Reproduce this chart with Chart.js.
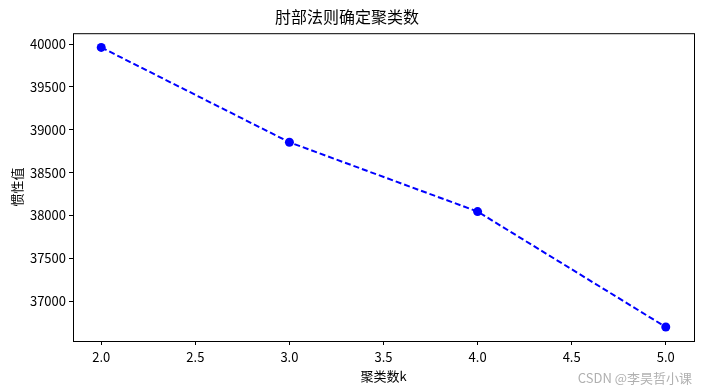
<!DOCTYPE html>
<html>
<head>
<meta charset="utf-8">
<script src="https://cdn.jsdelivr.net/npm/chart.js@4/dist/chart.umd.min.js"></script>
<style>
  html, body { margin: 0; padding: 0; background: #fff; }
  #wrap { width: 702px; height: 391px; }
</style>
</head>
<body>
<div id="wrap"><canvas id="chart" width="702" height="391"></canvas></div>
<script>
const kValues = [2, 3, 4, 5];
const inertia = [39962, 38855, 38046, 36698];
const xTicks = [2.0, 2.5, 3.0, 3.5, 4.0, 4.5, 5.0];
const yTicks = [37000, 37500, 38000, 38500, 39000, 39500, 40000];

const FONT = "'Noto Sans CJK SC', 'DejaVu Sans', sans-serif";
const ctx = document.getElementById("chart").getContext("2d");

/* box around plot + watermark */
const boxPlugin = {
  id: "box",
  afterDraw(chart) {
    const a = chart.chartArea;
    const c = chart.ctx;
    c.save();
    c.strokeStyle = "#000";
    c.lineWidth = 1;
    c.strokeRect(a.left + 0.5, a.top + 0.5, a.right - a.left, a.bottom - a.top);
    c.fillStyle = "#b0b0b0";
    c.font = "13px " + FONT;
    c.textAlign = "right";
    c.textBaseline = "middle";
    c.fillText("CSDN @李昊哲小课", 692, 378);
    c.restore();
  }
};

new Chart(ctx, {
  type: "line",
  data: {
    datasets: [{
      data: kValues.map((k, i) => ({ x: k, y: inertia[i] })),
      borderColor: "#0000ff",
      backgroundColor: "#0000ff",
      borderWidth: 2,
      borderDash: [6, 3],
      pointRadius: 4.5,
      pointBorderWidth: 0,
      fill: false,
      tension: 0
    }]
  },
  options: {
    responsive: false,
    animation: false,
    layout: { padding: { left: 0, right: 8, top: 0, bottom: 0 } },
    plugins: {
      legend: { display: false },
      tooltip: { enabled: false },
      title: {
        display: true,
        text: "肘部法则确定聚类数",
        color: "#000",
        font: { family: FONT, size: 16, weight: "normal" },
        padding: { top: 7, bottom: 7 }
      }
    },
    scales: {
      x: {
        type: "linear",
        min: 1.85,
        max: 5.15,
        afterBuildTicks: s => { s.ticks = xTicks.map(v => ({ value: v })); },
        afterFit: s => { s.height = 50; },
        grid: { drawOnChartArea: false, drawTicks: true, tickLength: 4, color: "#000" },
        border: { display: false },
        ticks: {
          color: "#000",
          padding: 4,
          maxRotation: 0,
          font: { family: FONT, size: 13 },
          callback: v => Number(v).toFixed(1)
        },
        title: {
          display: true,
          text: "聚类数k",
          color: "#000",
          font: { family: FONT, size: 13 },
          padding: { top: 0, bottom: 7 }
        }
      },
      y: {
        min: 36535,
        max: 40128,
        afterBuildTicks: s => { s.ticks = yTicks.map(v => ({ value: v })); },
        afterFit: s => { s.width = 73; },
        grid: { drawOnChartArea: false, drawTicks: true, tickLength: 4, color: "#000" },
        border: { display: false },
        ticks: {
          color: "#000",
          padding: 3,
          font: { family: FONT, size: 13 },
          callback: v => String(v)
        },
        title: {
          display: true,
          text: "惯性值",
          color: "#000",
          font: { family: FONT, size: 13 },
          padding: { top: 9, bottom: 0 }
        }
      }
    }
  },
  plugins: [boxPlugin]
});
</script>
</body>
</html>
